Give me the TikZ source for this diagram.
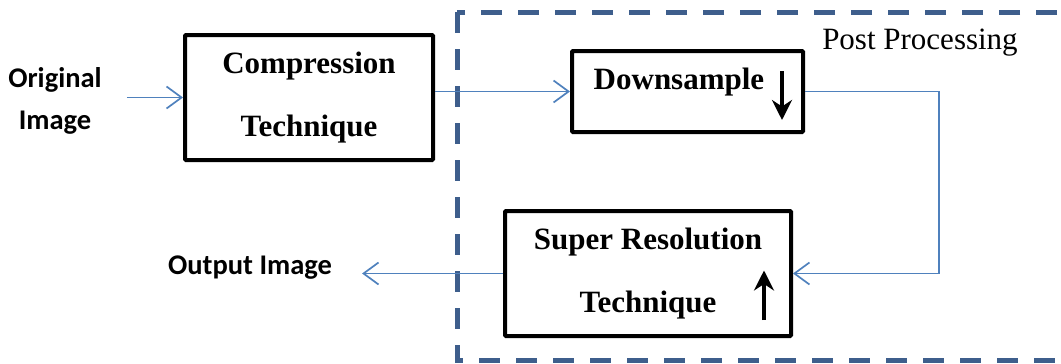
\documentclass[tikz,border=0pt]{standalone}
\usepackage{fontspec}
\setmainfont{Liberation Serif}
\newfontfamily\labelfont{Carlito}
\usetikzlibrary{arrows.meta}
\definecolor{flowblue}{RGB}{79,129,189}
\definecolor{frameblue}{RGB}{62,94,140}
\tikzset{
  blk/.style={draw, line width=4pt, rounded corners=1pt, align=center,
    font=\fontsize{31}{63}\selectfont\bfseries},
  flow/.style={draw=flowblue, line width=1.7pt, -{Straight Barb[length=15pt,width=22pt]}},
  side/.style={align=center, font=\fontsize{28.5}{42}\selectfont\labelfont\bfseries},
  thick arrow/.style={line width=4pt, -{Stealth[length=20pt,width=20pt]}}
}
\begin{document}
\begin{tikzpicture}[x=1pt,y=-1pt]
            \useasboundingbox (0,0) rectangle (1061,364);
            \draw[frameblue, line width=5pt, dash pattern=on 21pt off 16pt] (457,12) rectangle (1075,360);
            \node[font=\fontsize{31}{37}\selectfont] (post) at (920,43) {Post Processing};
            \node[blk, minimum width=248pt, minimum height=125pt] (comp) at (309,97.5) {Compression\\Technique};
            \node[blk, minimum width=231pt, minimum height=81pt] (down) at (687.5,91.5) {};
            \node[font=\fontsize{31}{37}\selectfont\bfseries] (downtxt) at (679,82) {Downsample};
            \node[blk, minimum width=286pt, minimum height=125pt] (sr) at (648,273.5) {Super Resolution\\Technique};
            \node[side, inner xsep=25pt] (orig) at (55,101) {Original\\Image};
            \node[side, inner xsep=30pt] (out) at (250,268) {Output Image};
            \coordinate (turn) at (939,91.5);
            \draw[flow] (orig.east |- comp.west)--(comp.west);
            \draw[flow] (comp.east |- down.west)--(down.west);
            \draw[flow] (down.east)--(turn) |- (sr.east);
            \draw[flow] (sr.west)--(sr.west -| out.east);
            % arrows inside the boxes
            \draw[thick arrow] ([xshift=-23pt,yshift=-22pt]down.north east)--([xshift=-23pt,yshift=14pt]down.south east);
            \draw[thick arrow] ([xshift=-29pt,yshift=18pt]sr.south east)--([xshift=-29pt,yshift=3pt]sr.east);
        \end{tikzpicture}
\end{document}
